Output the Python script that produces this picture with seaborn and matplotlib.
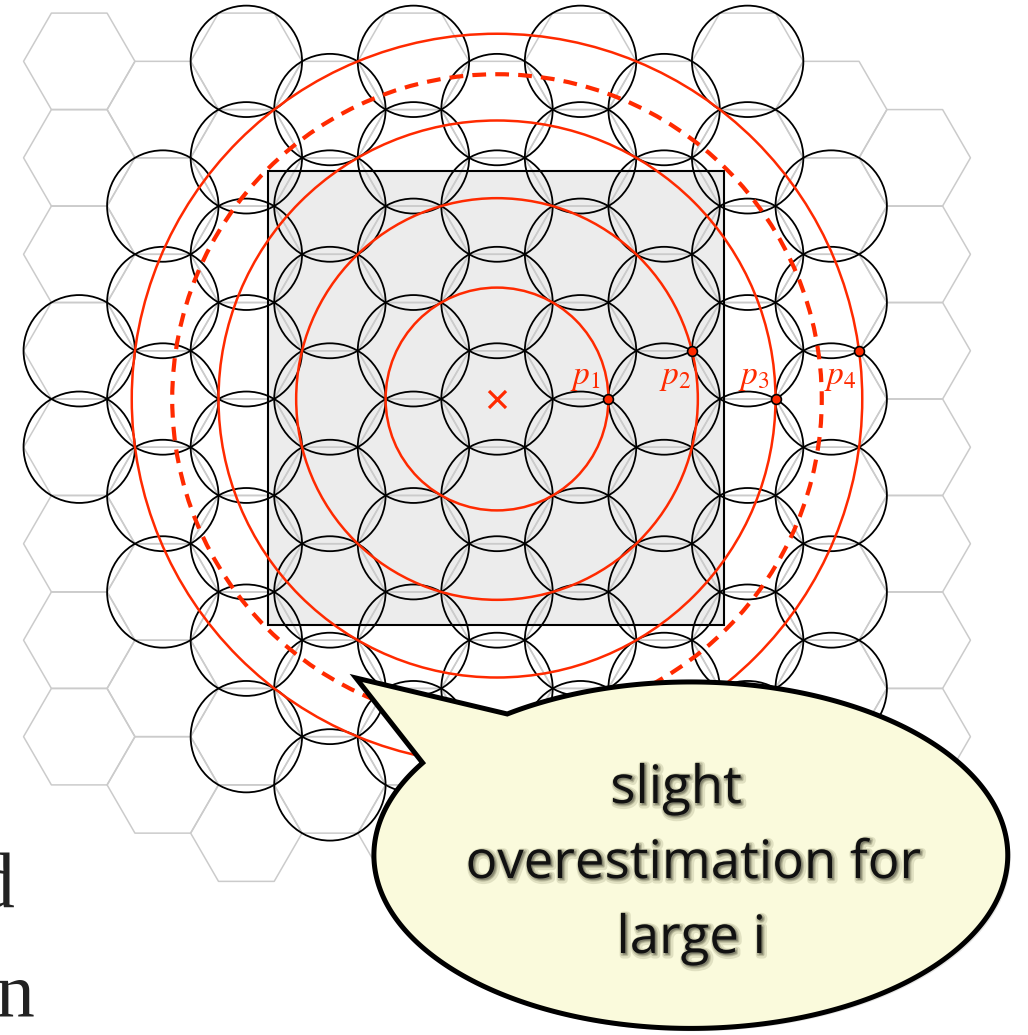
import numpy as np
import matplotlib
matplotlib.use("Agg")
import matplotlib.pyplot as plt
import matplotlib.patheffects as pe
from matplotlib.patches import Circle, Polygon, Rectangle, RegularPolygon
from matplotlib.collections import PatchCollection
import pandas as pd
import seaborn as sns

# hex lattice, circumradius = 1 unit; columns 1.5 apart, rows sqrt(3) apart
# rows given in row units counted downwards from the centre cell
hex_cols = [-5, -4, -3, -2, -1, 0, 1, 2, 3, 4, 5]
hex_top = [-3.5, -3, -3.5, -3, -3.5, -3, -3.5, -3, -3.5, -3, -2.5]
hex_bottom = [3.5, 4, 4.5, 4, 4.5, 4, 4.5, 4, 4.5, 4, 4.5]
circle_top = [-0.5, -2, -3.5, -3, -3.5, -3, -3.5, -3, -3.5, -2, None]
circle_bottom = [0.5, 2, 3.5, 4, 3.5, 4, 3.5, 4, 3.5, 3, None]

# query square
square_left, square_right = -4.12, 4.07
square_bottom, square_top = -4.06, 4.09

# red rings and sample points
ring_radius = [2.0, np.sqrt(13), 5.0, np.sqrt(43)]
dashed_radius = np.sqrt(34)
point_labels = ["$p_1$", "$p_2$", "$p_3$", "$p_4$"]
point_x = [2.0, 3.5, 5.0, 6.5]
point_y = [0.0, 0.866, 0.0, 0.866]

bubble_lines = ["slight", "overestimation for", "large i"]
margin_letters = ["d", "n"]

RED = "#ff2a00"
PX = 55.7          # pixels per unit
CX, CY = 497, 399  # pixel position of the centre cross
W, H = 1028, 1035


def px(x, y):
    return (x - CX) / PX, (CY - y) / PX


sns.set_theme(style="white")
plt.rcParams["mathtext.fontset"] = "stix"

fig = plt.figure(figsize=(W / 100, H / 100), dpi=100)
ax = fig.add_axes([0, 0, 1, 1])
ax.set_xlim(-CX / PX, (W - CX) / PX)
ax.set_ylim(-(H - CY) / PX, CY / PX)
ax.set_aspect("equal")
ax.axis("off")

s3 = np.sqrt(3)
hexes, circles = [], []
for i, col in enumerate(hex_cols):
    x = 1.5 * col
    for v in np.arange(hex_top[i], hex_bottom[i] + 0.01, 1.0):
        hexes.append(RegularPolygon((x, -v * s3), 6, radius=1.0, orientation=np.pi / 6))
    if circle_top[i] is not None:
        for v in np.arange(circle_top[i], circle_bottom[i] + 0.01, 1.0):
            circles.append(Circle((x, -v * s3), 1.0))

ax.add_patch(Rectangle((square_left, square_bottom), square_right - square_left,
                       square_top - square_bottom, fc="#ececec", ec="none", zorder=0.5))
ax.add_collection(PatchCollection(hexes, facecolor="none", edgecolor="#cbcbcb",
                                  linewidth=1.1, zorder=1))
ax.add_collection(PatchCollection(circles, facecolor="none", edgecolor="black",
                                  linewidth=1.3, zorder=2))
ax.add_patch(Rectangle((square_left, square_bottom), square_right - square_left,
                       square_top - square_bottom, fc="none", ec="black", lw=1.5, zorder=2.2))

for r in ring_radius:
    ax.add_patch(Circle((0, 0), r, fc="none", ec=RED, lw=1.8, zorder=3))
ax.add_patch(Circle((0, 0), dashed_radius, fc="none", ec=RED, lw=3.0,
                    linestyle=(0, (3.3, 2.2)), zorder=3))

sns.scatterplot(x=[0.0], y=[0.0], marker="x", s=150, color=RED, linewidth=2.3,
                zorder=4, ax=ax, legend=False)
pts = pd.DataFrame({"x": point_x, "y": point_y, "label": point_labels})
sns.scatterplot(data=pts, x="x", y="y", s=50, color=RED, edgecolor="black",
                linewidth=1.2, zorder=4.5, ax=ax, legend=False)

label_y = 0.41
for r, lab in zip(ring_radius, point_labels):
    ax.text(np.sqrt(r ** 2 - label_y ** 2) - 0.1, label_y, lab, color=RED,
            fontsize=24, ha="right", va="center", zorder=4.5)

# speech bubble
bub_cx, bub_cy = 3.48, -8.19
bub_a, bub_b = 5.69, 3.11
tail_tip = px(356, 678)
t = np.linspace(np.deg2rad(125.4), np.deg2rad(147.8) - 2 * np.pi, 400)
verts = np.column_stack([bub_cx + bub_a * np.cos(t), bub_cy + bub_b * np.sin(t)])
verts = np.vstack([verts, tail_tip])
bubble = Polygon(verts, closed=True, fc="#fafadc", ec="black", lw=3.6,
                 joinstyle="miter", zorder=6)
bubble.set_path_effects([pe.SimplePatchShadow(offset=(2, -2), alpha=0.15), pe.Normal()])
ax.add_patch(bubble)

shadow = [pe.Stroke(linewidth=5, foreground="#6e6e48", alpha=0.18, offset=(1.5, -1.5)),
          pe.Stroke(linewidth=2.5, foreground="#55553a", alpha=0.25, offset=(1, -1)),
          pe.Normal()]
line_x = [676, 693, 691]
for k, line in enumerate(bubble_lines):
    bx, by = px(line_x[k], 803 + 75 * k)
    ax.text(bx, by, line, fontsize=38, family="Open Sans", color="#111111",
            ha="center", va="baseline", zorder=7, path_effects=shadow)

# letters cut off at the left margin
for letter, (lx, ly) in zip(margin_letters, [(14, 907), (34, 1017)]):
    mx, my = px(lx, ly)
    ax.text(mx, my, letter, fontsize=56, family="Liberation Serif", color="#222222",
            ha="right", va="baseline", zorder=7)

fig.savefig("out.png", dpi=100)
